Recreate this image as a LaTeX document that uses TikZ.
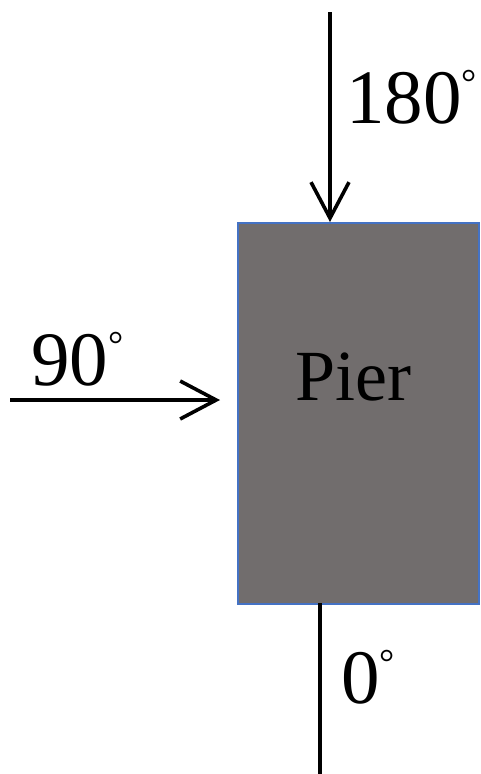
\documentclass[tikz,border=0pt]{standalone}
\usepackage{fontspec}
\setmainfont{Liberation Serif}
\usetikzlibrary{arrows.meta}
\definecolor{piergray}{RGB}{113,109,109}
\definecolor{pierblue}{RGB}{68,114,196}
\tikzset{
  dirarrow/.style={line width=3.6pt, -{Straight Barb[length=36pt,width=38pt,line width=3.6pt]}},
  dirline/.style={line width=3.6pt},
  lbl/.style={inner sep=0pt, anchor=base west, font=\fontsize{77}{77}\selectfont},
}
\newcommand{\degsym}{\raisebox{0.36em}{\fontsize{38}{38}\selectfont\char"00B0}}
\begin{document}
\begin{tikzpicture}[x=1pt,y=-1pt]
\useasboundingbox (0,0) rectangle (480,774);
\node[draw=pierblue, line width=1.5pt, fill=piergray, minimum width=241pt, minimum height=381pt, anchor=north west, inner sep=0pt] (pier) at (237,222) {};
\node[inner sep=0pt, anchor=base, font=\fontsize{72}{72}\selectfont] (piertxt) at (353,400) {Pier};
\coordinate (topstart) at (330,12);
\coordinate (toptip) at (330,222);
\coordinate (leftstart) at (10,400);
\coordinate (lefttip) at (220,400);
\coordinate (botstart) at (320,603);
\coordinate (botend) at (320,774);
\draw[dirarrow] (topstart) -- (toptip);
\draw[dirarrow] (leftstart) -- (lefttip);
\draw[dirline] (botstart) -- (botend);
\node[lbl] (l180) at (346,123) {180\degsym};
\node[lbl] (l90) at (31,385) {90\degsym};
\node[lbl] (l0) at (341,703) {0\degsym};
\end{tikzpicture}
\end{document}
